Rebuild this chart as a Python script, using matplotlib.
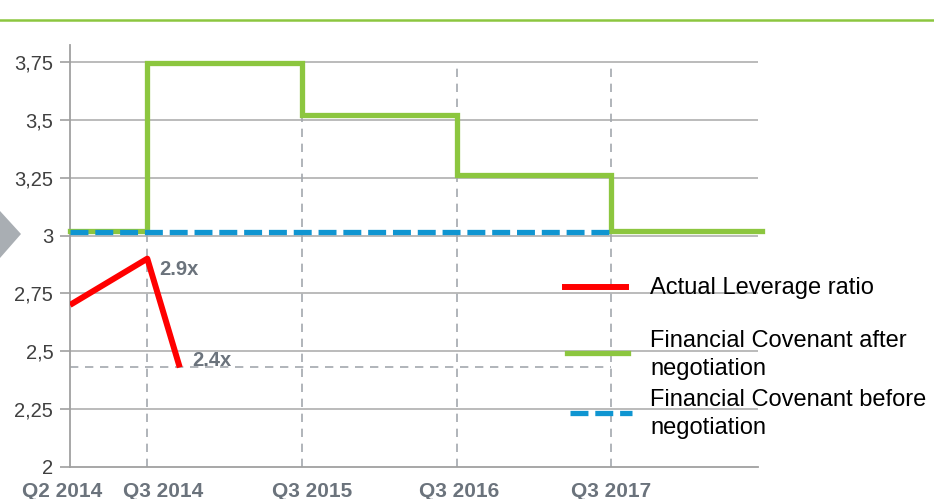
import matplotlib

matplotlib.use("Agg")
import matplotlib.pyplot as plt
from matplotlib.lines import Line2D
from matplotlib.patches import Polygon

plt.rcParams["font.family"] = ["Liberation Sans", "DejaVu Sans"]

# quarter positions on a half-year category scale
quarter_labels = ["Q2 2014", "Q3 2014", "Q3 2015", "Q3 2016", "Q3 2017"]
quarter_pos = [0, 1, 3, 5, 7]

# covenant after negotiation (step levels)
after_x = [0, 1, 3, 5, 7, 8.95]
after_y = [3.02, 3.745, 3.52, 3.26, 3.02, 3.02]

# covenant before negotiation
before_x = [0, 7]
before_y = [3.015, 3.015]

# actual leverage ratio
actual_x = [0, 1, 1.42]
actual_y = [2.70, 2.90, 2.43]
actual_labels = ["2.9x", "2.4x"]

yticks = [2, 2.25, 2.5, 2.75, 3, 3.25, 3.5, 3.75]
ytick_labels = ["2", "2,25", "2,5", "2,75", "3", "3,25", "3,5", "3,75"]

GREEN = "#8CC63F"
BLUE = "#0F95D1"
RED = "#FF0000"
GRID = "#B5B5B5"
DASH = "#A3A8AE"
LABEL = "#6B737C"

fig = plt.figure(figsize=(9.34, 4.99), dpi=100)
ax = fig.add_axes([70 / 934, 32 / 499, 688 / 934, 422 / 499])
ax.set_xlim(0, 8.9)
ax.set_ylim(2.0, 3.823)

for y in yticks[1:]:
    ax.axhline(y, color=GRID, lw=1.3, zorder=1)
for x in quarter_pos[1:]:
    ax.plot([x, x], [2.0, 3.75], color=DASH, lw=1.2, dashes=(5, 4), zorder=2)
ax.plot([0, 7], [actual_y[2], actual_y[2]], color=DASH, lw=1.2, dashes=(5, 4), zorder=2)

ax.step(after_x, after_y, where="post", color=GREEN, lw=3.8, zorder=3,
        solid_joinstyle="miter", clip_on=False)
ax.plot(before_x, before_y, color=BLUE, lw=3.8, dashes=(3.4, 1.3), zorder=4)
ax.plot(actual_x, actual_y, color=RED, lw=4.3, zorder=5, solid_capstyle="butt")

ax.text(actual_x[1] + 0.15, actual_y[1] - 0.045, actual_labels[0], fontsize=14.5,
        fontweight="bold", color=LABEL, va="center", ha="left")
ax.text(actual_x[2] + 0.16, actual_y[2] + 0.03, actual_labels[1], fontsize=14.5,
        fontweight="bold", color=LABEL, va="center", ha="left")

for sp in ["top", "right"]:
    ax.spines[sp].set_visible(False)
for sp in ["left", "bottom"]:
    ax.spines[sp].set_color("#A0A0A0")
    ax.spines[sp].set_linewidth(1.3)

ax.set_yticks(yticks)
ax.set_yticklabels(ytick_labels, fontsize=14.5, color="#404040")
ax.tick_params(axis="y", length=7, width=1.2, color="#A0A0A0", pad=5)
ax.set_xticks([])

# the reference crops these labels at the bottom edge
label_shift = [-0.1, 0.2, 0.13, 0.03, 0.0]
for x, lab, dx in zip(quarter_pos, quarter_labels, label_shift):
    ax.text(x + dx, 1.895, lab, fontsize=15, fontweight="bold", color=LABEL,
            ha="center", va="center", clip_on=False)

# legend drawn in figure pixels
def fx(px):
    return px / 934


def fy(py):
    return 1 - py / 499


fig.add_artist(Line2D([fx(565), fx(626)], [fy(287), fy(287)], color=RED, lw=4.3))
fig.add_artist(Line2D([fx(567), fx(628)], [fy(353), fy(353)], color=GREEN, lw=3.8))
fig.add_artist(Line2D([fx(570), fx(632)], [fy(413), fy(413)], color=BLUE, lw=3.8,
                      dashes=(3.4, 1.3)))
fig.text(fx(650), fy(288), "Actual Leverage ratio", fontsize=17, va="center", ha="left")
fig.text(fx(650), fy(355), "Financial Covenant after\nnegotiation", fontsize=17,
         va="center", ha="left", linespacing=1.32)
fig.text(fx(650), fy(414), "Financial Covenant before\nnegotiation", fontsize=17,
         va="center", ha="left", linespacing=1.32)

# top rule and side arrow
fig.add_artist(Line2D([0, 1], [fy(20), fy(20)], color=GREEN, lw=1.8))
fig.add_artist(Polygon([[0, fy(211)], [fx(21), fy(234)], [0, fy(258)]],
                       closed=True, color="#A9AEB3", lw=0))

fig.savefig("out.png", dpi=100)
